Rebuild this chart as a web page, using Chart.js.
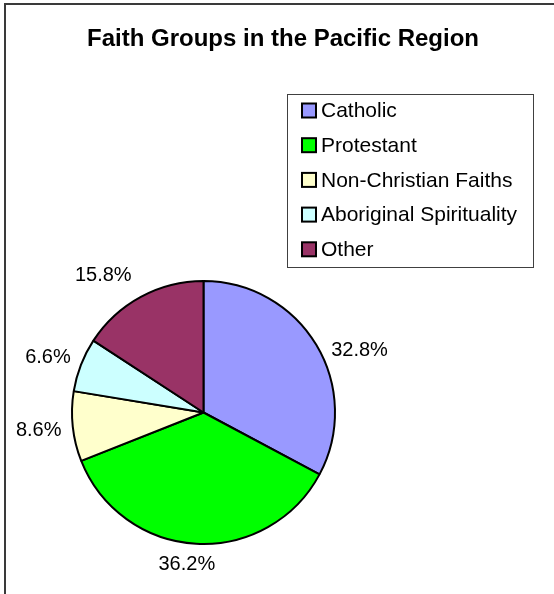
<!DOCTYPE html>
<html>
<head>
<meta charset="utf-8">
<script src="https://cdn.jsdelivr.net/npm/chart.js@4/dist/chart.umd.min.js"></script>
<style>
  html, body { margin: 0; padding: 0; background: #fff; }
  #wrap { width: 554px; height: 594px; position: relative; }
</style>
</head>
<body>
<div id="wrap"><canvas id="c" width="554" height="594"></canvas></div>
<script>
const chartTitle = 'Faith Groups in the Pacific Region';
const categories = ['Catholic', 'Protestant', 'Non-Christian Faiths', 'Aboriginal Spirituality', 'Other'];
const shares = [32.8, 36.2, 8.6, 6.6, 15.8];
const sliceColors = ['#9999FF', '#00FF00', '#FFFFCC', '#CCFFFF', '#993366'];

const FONT = 'Arial, "Liberation Sans", sans-serif';

// white background plus the outer frame (left and top edges visible)
const framePlugin = {
  id: 'frame',
  beforeDraw(chart) {
    const ctx = chart.ctx;
    ctx.save();
    ctx.fillStyle = '#ffffff';
    ctx.fillRect(0, 0, chart.width, chart.height);
    ctx.strokeStyle = '#3a3a3a';
    ctx.lineWidth = 2;
    ctx.strokeRect(5, 4, chart.width + 20, chart.height + 20);
    ctx.restore();
  }
};

// bold heading above the pie
const headingPlugin = {
  id: 'heading',
  afterDraw(chart, args, opts) {
    const ctx = chart.ctx;
    ctx.save();
    ctx.font = 'bold ' + opts.size + 'px ' + FONT;
    ctx.fillStyle = '#000';
    ctx.textAlign = 'center';
    ctx.textBaseline = 'alphabetic';
    ctx.fillText(opts.text, opts.x, opts.y);
    ctx.restore();
  }
};

// boxed legend to the right of the pie
const boxLegendPlugin = {
  id: 'boxLegend',
  afterDraw(chart, args, opts) {
    const ctx = chart.ctx;
    const labels = chart.data.labels;
    const colors = chart.data.datasets[0].backgroundColor;
    ctx.save();
    ctx.fillStyle = '#fff';
    ctx.fillRect(opts.left, opts.top, opts.width, opts.height);
    ctx.strokeStyle = '#404040';
    ctx.lineWidth = 1;
    ctx.strokeRect(opts.left + 0.5, opts.top + 0.5, opts.width, opts.height);
    ctx.font = opts.size + 'px ' + FONT;
    ctx.textBaseline = 'middle';
    ctx.textAlign = 'left';
    labels.forEach((lab, i) => {
      const cy = opts.firstRow + i * opts.rowGap;
      const sx = opts.left + opts.swatchInset;
      const s = opts.swatch;
      ctx.fillStyle = colors[i];
      ctx.fillRect(sx, cy - s / 2, s, s);
      ctx.strokeStyle = '#000';
      ctx.lineWidth = 2;
      ctx.strokeRect(sx, cy - s / 2, s, s);
      ctx.fillStyle = '#000';
      ctx.fillText(lab, sx + s + 5, cy + 1);
    });
    ctx.restore();
  }
};

// percentage labels placed just outside each slice
const sliceLabelPlugin = {
  id: 'sliceLabels',
  afterDatasetsDraw(chart, args, opts) {
    const ctx = chart.ctx;
    const meta = chart.getDatasetMeta(0);
    const values = chart.data.datasets[0].data;
    ctx.save();
    ctx.font = opts.size + 'px ' + FONT;
    ctx.fillStyle = '#000';
    ctx.textAlign = 'center';
    ctx.textBaseline = 'middle';
    meta.data.forEach((arc, i) => {
      const p = arc.getProps(['x', 'y', 'startAngle', 'endAngle', 'outerRadius'], true);
      const mid = (p.startAngle + p.endAngle) / 2;
      const dx = Math.cos(mid), dy = Math.sin(mid);
      const text = values[i].toFixed(1) + '%';
      const w = ctx.measureText(text).width;
      const h = opts.size;
      const ext = Math.abs(dx) * w / 2 + Math.abs(dy) * h / 2;
      const d = p.outerRadius + 1 + opts.gap + ext;
      const n = opts.nudge[i] || [0, 0];
      ctx.fillText(text, p.x + dx * d + n[0], p.y + dy * d + n[1]);
    });
    ctx.restore();
  }
};

new Chart(document.getElementById('c'), {
  type: 'pie',
  data: {
    labels: categories,
    datasets: [{
      data: shares,
      backgroundColor: sliceColors,
      borderColor: '#000000',
      borderWidth: 2
    }]
  },
  options: {
    responsive: false,
    devicePixelRatio: 1,
    animation: false,
    events: [],
    layout: { padding: { left: 71, right: 218, top: 280, bottom: 49 } },
    plugins: {
      legend: { display: false },
      title: { display: false },
      tooltip: { enabled: false },
      heading: { text: chartTitle, size: 24, x: 283, y: 46 },
      boxLegend: { left: 287, top: 94, width: 246, height: 173, firstRow: 110.5, rowGap: 34.7,
                   swatch: 14, swatchInset: 15, size: 21 },
      sliceLabels: { size: 20, gap: 9.5, nudge: [[9, 26], [-8, -1], [0, 0], [0, 5], [-22, 7]] }
    }
  },
  plugins: [framePlugin, sliceLabelPlugin, headingPlugin, boxLegendPlugin]
});
</script>
</body>
</html>
